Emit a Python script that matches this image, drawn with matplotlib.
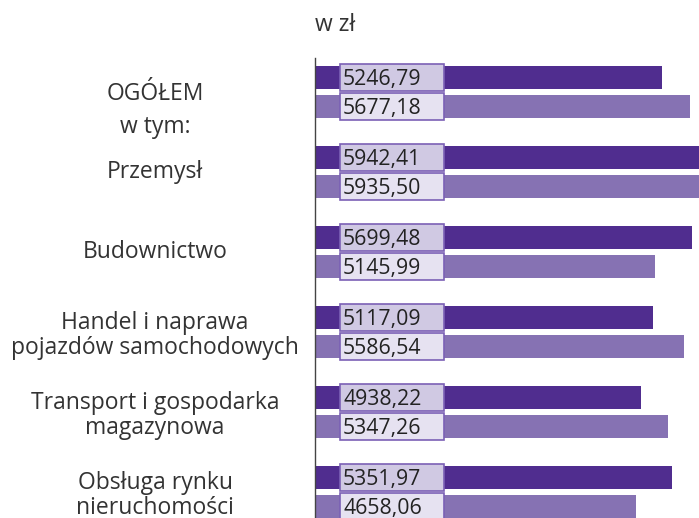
import matplotlib
matplotlib.use("Agg")
import matplotlib.pyplot as plt
import matplotlib.transforms as mtransforms
from matplotlib.patches import Rectangle
import numpy as np

plt.rcParams['font.family'] = ['Open Sans', 'DejaVu Sans']

categories = ["OGÓŁEM", "Przemysł", "Budownictwo",
              "Handel i naprawa\npojazdów samochodowych",
              "Transport i gospodarka\nmagazynowa",
              "Obsługa rynku\nnieruchomości"]
# bar lengths as drawn in the picture
series_a = [5246.79, 5942.41, 5699.48, 5117.09, 4938.22, 5400.0]
series_b = [5677.18, 5935.50, 5145.99, 5586.54, 5347.26, 4855.0]
# value labels as printed in the picture
labels_a = ["5246,79", "5942,41", "5699,48", "5117,09", "4938,22", "5351,97"]
labels_b = ["5677,18", "5935,50", "5145,99", "5586,54", "5347,26", "4658,06"]
unit_label = "w zł"
sub_label = "w tym:"

dark = "#502d8f"
light = "#8672b3"
box_dark = "#d0c9e3"
box_light = "#e6e2f1"
box_edge = "#7b60b5"
text_col = "#333333"

W, H = 699, 518
fig = plt.figure(figsize=(W / 100, H / 100), dpi=100)
ax = fig.add_axes([315 / W, 0, 384 / W, 460 / H])

g = np.arange(len(categories))
off = 0.18125
bh = 0.2875
ax.barh(g - off, series_a, height=bh, color=dark)
ax.barh(g + off, series_b, height=bh, color=light)

ax.set_xlim(0, 5810)
ax.set_ylim(5.325, -0.425)
for s in ["top", "right", "bottom"]:
    ax.spines[s].set_visible(False)
ax.spines["left"].set_color("#444444")
ax.spines["left"].set_linewidth(1.0)
ax.set_xticks([])
ax.set_yticks([])

trans = mtransforms.blended_transform_factory(ax.transAxes, ax.transData)
bx0, bx1 = 25 / 384, 129 / 384
boxh = 0.3375
for i in range(len(categories)):
    for yc, lab, fc in [(g[i] - off, labels_a[i], box_dark),
                        (g[i] + off, labels_b[i], box_light)]:
        ax.add_patch(Rectangle((bx0, yc - boxh / 2), bx1 - bx0, boxh,
                               transform=trans, facecolor=fc,
                               edgecolor=box_edge, linewidth=1.2,
                               clip_on=False, zorder=3))
        ax.text(28 / 384, yc + 0.02, lab, transform=trans, ha="left",
                va="center", fontsize=15.3, color="#222222", zorder=4)

# category labels
ftrans = mtransforms.blended_transform_factory(fig.transFigure, ax.transData)
xc = 155 / W
for i, cat in enumerate(categories):
    y = g[i]
    if i == 0:
        y = 0.025
    elif "\n" in cat:
        y = g[i] + 0.04
    ax.text(xc, y, cat, transform=ftrans, ha="center", va="center",
            fontsize=16.5, color=text_col, linespacing=1.05, clip_on=False)
ax.text(xc, 0.4375, sub_label, transform=ftrans, ha="center", va="center",
        fontsize=16.5, color=text_col, clip_on=False)

fig.text(315 / W, 1 - 25 / H, unit_label, ha="left", va="center",
         fontsize=16.5, color=text_col)

fig.savefig("out.png", dpi=100)
